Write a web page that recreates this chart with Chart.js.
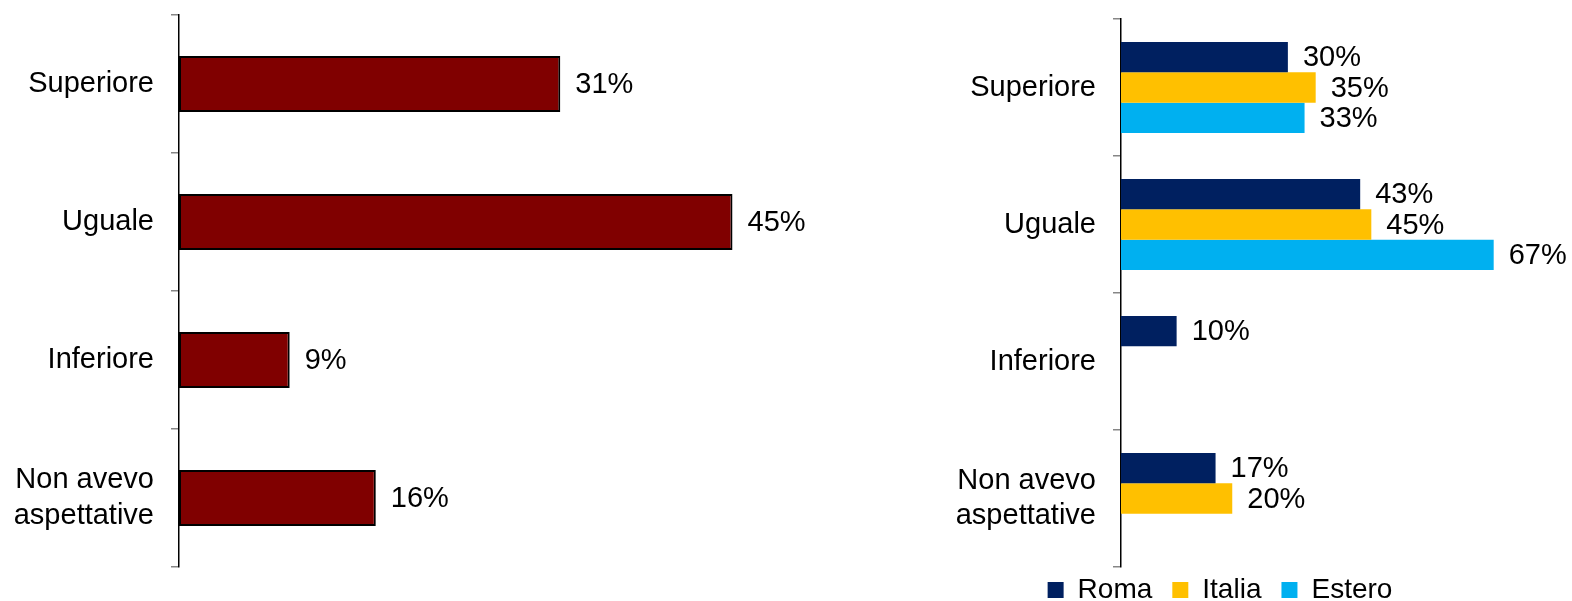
<!DOCTYPE html>
<html lang="it">
<head>
<meta charset="utf-8">
<title>Aspettative</title>
<script src="https://cdn.jsdelivr.net/npm/chart.js@4.4.1/dist/chart.umd.min.js"></script>
<style>
  html, body { margin: 0; padding: 0; background: #fff; overflow: hidden; }
  body { width: 1572px; height: 601px; position: relative; }
  #overall-chart { position: absolute; left: 0; top: 0; }
  #origin-chart { position: absolute; left: 874px; top: 0; }
</style>
</head>
<body>
<canvas id="overall-chart" width="860" height="601"></canvas>
<canvas id="origin-chart" width="698" height="625"></canvas>

<script>
// Answers per category, in %
const categories = ['Superiore', 'Uguale', 'Inferiore', ['Non avevo', 'aspettative']];
const overallValues = [31, 45, 9, 16];

const seriesNames = ['Roma', 'Italia', 'Estero'];
const romaValues = [30, 43, 10, 17];
const italiaValues = [35, 45, null, 20];
const esteroValues = [33, 67, null, null];

const FONT_FAMILY = '"Liberation Sans", Arial, sans-serif';

// writes "NN%" just to the right of each bar
const valueLabels = {
  id: 'valueLabels',
  afterDatasetsDraw(chart) {
    const ctx = chart.ctx;
    ctx.save();
    ctx.font = `29px ${FONT_FAMILY}`;
    ctx.fillStyle = '#000';
    ctx.textAlign = 'left';
    ctx.textBaseline = 'middle';
    chart.data.datasets.forEach((ds, i) => {
      chart.getDatasetMeta(i).data.forEach((bar, j) => {
        const v = ds.data[j];
        if (v === null || v === undefined) return;
        ctx.fillText(`${v}%`, bar.x + 15, bar.y + 1);
      });
    });
    ctx.restore();
  }
};

// the legend sits tight under the plot, closer than its own padding allows
const legendNudge = {
  id: 'legendNudge',
  afterLayout(chart) {
    const lg = chart.legend;
    if (!lg) return;
    lg.top -= 11;
    lg.bottom -= 11;
  }
};

function categoryAxis(width) {
  return {
    type: 'category',
    afterFit: scale => {
      scale.width = width;
      // bands are offset, labels never stick out above or below
      scale.paddingTop = 0;
      scale.paddingBottom = 0;
    },
    border: { display: true, color: '#000', width: 1.5 },
    grid: {
      offset: true,
      drawOnChartArea: false,
      drawTicks: true,
      tickLength: 8,
      color: '#868686',
      lineWidth: 1.5
    },
    ticks: {
      color: '#000',
      padding: 17,
      font: { family: FONT_FAMILY, size: 29, lineHeight: 1.24 }
    }
  };
}

function renderOverallChart() {
  new Chart(document.getElementById('overall-chart'), {
    type: 'bar',
    data: {
      labels: categories,
      datasets: [{
        data: overallValues,
        backgroundColor: '#800000',
        borderColor: '#000',
        borderWidth: 2,
        borderSkipped: false,
        categoryPercentage: 0.406,
        barPercentage: 1
      }]
    },
    options: {
      indexAxis: 'y',
      responsive: false,
      animation: false,
      devicePixelRatio: 1,
      layout: { padding: { top: 15, bottom: 34, right: 66, left: 0 } },
      plugins: { legend: { display: false }, tooltip: { enabled: false } },
      scales: {
        x: { display: false, min: 0, max: 50 },
        y: categoryAxis(179)
      }
    },
    plugins: [valueLabels]
  });
}

function renderOriginChart() {
  const colors = ['#002060', '#FFC000', '#00B0F0'];
  const series = [romaValues, italiaValues, esteroValues];

  new Chart(document.getElementById('origin-chart'), {
    type: 'bar',
    data: {
      labels: categories,
      datasets: series.map((values, i) => ({
        label: seriesNames[i],
        data: values,
        backgroundColor: colors[i],
        borderWidth: 0,
        categoryPercentage: 0.664,
        barPercentage: 1
      }))
    },
    options: {
      indexAxis: 'y',
      responsive: false,
      animation: false,
      devicePixelRatio: 1,
      layout: { padding: { top: 19, bottom: 0, right: 6, left: 0 } },
      plugins: {
        tooltip: { enabled: false },
        legend: {
          display: true,
          position: 'bottom',
          labels: {
            boxWidth: 16,
            boxHeight: 16,
            padding: 20,
            color: '#000',
            font: { family: FONT_FAMILY, size: 28 }
          }
        }
      },
      scales: {
        x: { display: false, min: 0, max: 80 },
        y: categoryAxis(247)
      }
    },
    plugins: [valueLabels, legendNudge]
  });
}

document.addEventListener('DOMContentLoaded', () => {
  renderOverallChart();
  renderOriginChart();
});
</script>
</body>
</html>
